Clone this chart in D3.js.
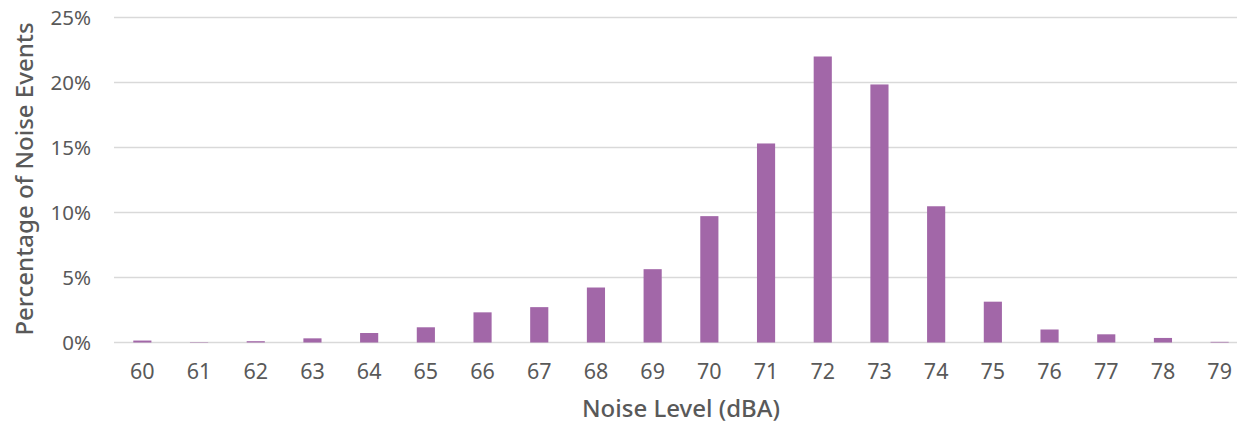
<!DOCTYPE html>
<html>
<head>
<meta charset="utf-8">
<script src="https://cdn.jsdelivr.net/npm/d3@7"></script>
<style>
body{margin:0;background:#fff;}
svg text{font-family:"Noto Sans",sans-serif;fill:#595959;}
</style>
</head>
<body>
<script>
var w = 1237;
var h = 423;

var levels = [60,61,62,63,64,65,66,67,68,69,70,71,72,73,74,75,76,77,78,79];
var percents = [0.15,0.03,0.1,0.32,0.73,1.17,2.32,2.72,4.23,5.64,9.72,15.31,22.0,19.85,10.48,3.14,1.0,0.63,0.35,0.05];
var yTicks = [0,5,10,15,20,25];

var xScale = d3.scaleBand()
                .domain(levels)
                .range([114,1248])
                .paddingInner(0.68)
                .paddingOuter(0.34);

var yScale = d3.scaleLinear()
                .domain([0,25])
                .range([342.5,17.5]);

var svg = d3.select("body")
            .append("svg")
            .attr("width",w)
            .attr("height",h);

// gridlines
svg.append("g")
    .selectAll("line")
    .data(yTicks)
    .enter()
    .append("line")
    .attr("x1",114)
    .attr("x2",w)
    .attr("y1",function(d){ return yScale(d); })
    .attr("y2",function(d){ return yScale(d); })
    .attr("stroke","#d9d9d9")
    .attr("stroke-width",1.5);

// y axis labels
var yAxis = d3.axisLeft(yScale)
                .tickValues(yTicks)
                .tickFormat(function(d){ return d + "%"; })
                .tickSize(0)
                .tickPadding(0);

svg.append("g")
    .attr("transform","translate(91,0)")
    .call(yAxis)
    .call(function(g){ g.select(".domain").remove(); })
    .selectAll("text")
    .attr("font-size",20.5)
    .attr("dy","0.35em");

// bars
svg.selectAll("rect.bar")
    .data(percents)
    .enter()
    .append("rect")
    .attr("class","bar")
    .attr("x",function(d,i){ return xScale(levels[i]); })
    .attr("y",function(d){ return yScale(d); })
    .attr("width",xScale.bandwidth())
    .attr("height",function(d){ return yScale(0) - yScale(d); })
    .attr("fill","#a267a8");

// x axis labels
var xAxis = d3.axisBottom(xScale)
                .tickSize(0)
                .tickPadding(0);

svg.append("g")
    .attr("transform","translate(0,371)")
    .call(xAxis)
    .call(function(g){ g.select(".domain").remove(); })
    .selectAll("text")
    .attr("font-size",21.5)
    .attr("dy","0.35em");

// axis titles
svg.append("text")
    .attr("x",681)
    .attr("y",411)
    .attr("text-anchor","middle")
    .attr("dominant-baseline","middle")
    .attr("font-size",24)
    .attr("font-weight",500)
    .text("Noise Level (dBA)");

svg.append("text")
    .attr("transform","translate(27,179) rotate(-90)")
    .attr("text-anchor","middle")
    .attr("dominant-baseline","middle")
    .attr("font-size",24)
    .attr("font-weight",500)
    .text("Percentage of Noise Events");
</script>
</body>
</html>
